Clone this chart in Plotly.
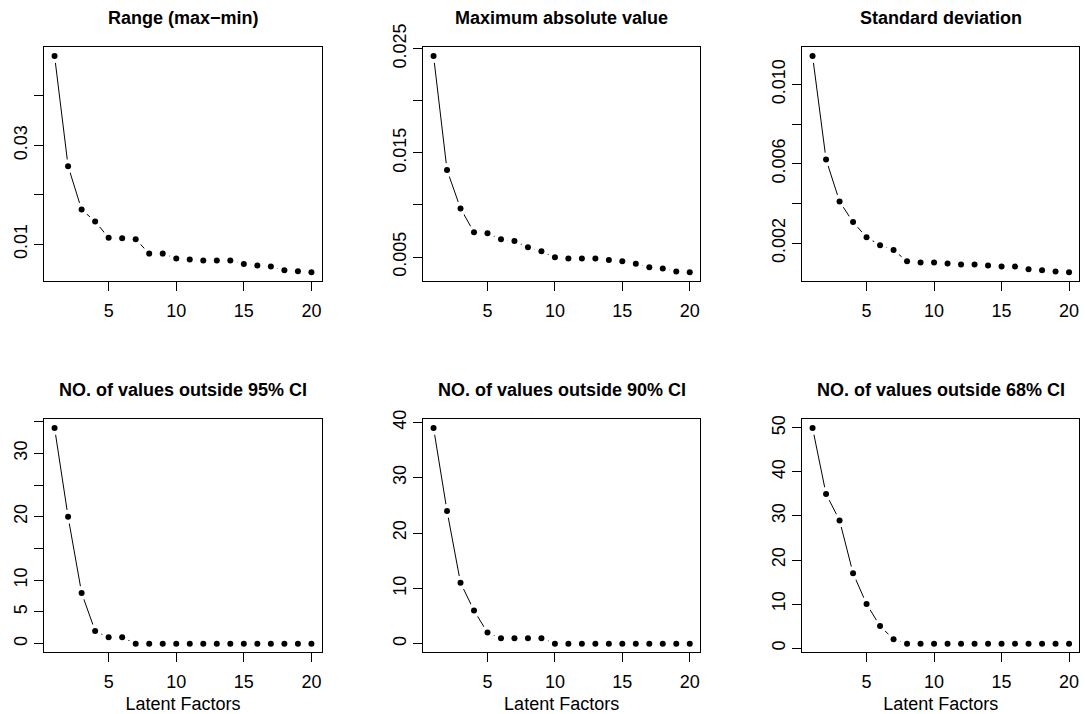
import plotly.graph_objects as go

factors = list(range(1, 21))

range_vals = [0.0481, 0.0258, 0.0170, 0.0146, 0.0113, 0.0112, 0.0110, 0.0081, 0.0081, 0.0071,
              0.0069, 0.0067, 0.0067, 0.0067, 0.0060, 0.0057, 0.0055, 0.0047, 0.0045, 0.0043]
maxabs_vals = [0.0243, 0.01335, 0.00966, 0.00738, 0.00728, 0.0067, 0.00654, 0.00593, 0.00555, 0.00497,
               0.00487, 0.00487, 0.00487, 0.00471, 0.00459, 0.00436, 0.00401, 0.00391, 0.00362, 0.00353]
sd_vals = [0.01143, 0.00622, 0.0041, 0.00306, 0.0023, 0.0019, 0.00165, 0.00109, 0.00103, 0.00103,
           0.00098, 0.00093, 0.00093, 0.00088, 0.00082, 0.00082, 0.00069, 0.00064, 0.00057, 0.00053]
ci95_vals = [34, 20, 8, 2, 1, 1, 0, 0, 0, 0, 0, 0, 0, 0, 0, 0, 0, 0, 0, 0]
ci90_vals = [39, 24, 11, 6, 2, 1, 1, 1, 1, 0, 0, 0, 0, 0, 0, 0, 0, 0, 0, 0]
ci68_vals = [50, 35, 29, 17, 10, 5, 2, 1, 1, 1, 1, 1, 1, 1, 1, 1, 1, 1, 1, 1]

titles = ["Range (max\u2212min)", "Maximum absolute value", "Standard deviation",
          "NO. of values outside 95% CI", "NO. of values outside 90% CI", "NO. of values outside 68% CI"]

ytick_vals = [
    [0.01, 0.02, 0.03, 0.04],
    [0.005, 0.010, 0.015, 0.020, 0.025],
    [0.002, 0.004, 0.006, 0.008, 0.010],
    [0, 5, 10, 15, 20, 25, 30, 35],
    [0, 10, 20, 30, 40],
    [0, 10, 20, 30, 40, 50],
]
ytick_text = [
    ["0.01", "", "0.03", ""],
    ["0.005", "", "0.015", "", "0.025"],
    ["0.002", "", "0.006", "", "0.010"],
    ["0", "5", "10", "", "20", "", "30", ""],
    ["0", "10", "20", "30", "40"],
    ["0", "10", "20", "30", "40", "50"],
]
xtick_vals = [5, 10, 15, 20]
xlabel = "Latent Factors"

series = [range_vals, maxabs_vals, sd_vals, ci95_vals, ci90_vals, ci68_vals]

W, H = 1085, 714
col_px = [(44.3, 321.7), (423.3, 700.0), (802.3, 1079.3)]
row_px = [(47.3, 281.0), (419.3, 652.3)]
title_y_px = [17.5, 389.7]

FONT = "Liberation Sans, Arial, Helvetica, sans-serif"

fig = go.Figure()
annotations = []
for i, vals in enumerate(series):
    r, c = divmod(i, 3)
    n = i + 1
    xa = "x" if n == 1 else f"x{n}"
    ya = "y" if n == 1 else f"y{n}"
    # line
    fig.add_trace(go.Scatter(x=factors, y=vals, mode="lines", xaxis=xa, yaxis=ya,
                             line=dict(color="black", width=1), showlegend=False, hoverinfo="skip"))
    # gaps around points (R type="b")
    fig.add_trace(go.Scatter(x=factors, y=vals, mode="markers", xaxis=xa, yaxis=ya,
                             marker=dict(color="white", size=14, line=dict(width=0)),
                             showlegend=False, hoverinfo="skip"))
    fig.add_trace(go.Scatter(x=factors, y=vals, mode="markers", xaxis=xa, yaxis=ya,
                             marker=dict(color="black", size=6, line=dict(width=0)),
                             showlegend=False))
    lo, hi = min(vals), max(vals)
    pad = (hi - lo) * 0.04
    x0, x1 = col_px[c]
    y0, y1 = row_px[r]
    xdom = [x0 / W, x1 / W]
    ydom = [1 - y1 / H, 1 - y0 / H]
    xkey = "xaxis" if n == 1 else f"xaxis{n}"
    ykey = "yaxis" if n == 1 else f"yaxis{n}"
    xax = dict(domain=xdom, anchor=ya, range=[1 - 0.76, 20 + 0.76], automargin=False,
               tickmode="array", tickvals=xtick_vals, ticktext=[str(v) for v in xtick_vals],
               ticks="outside", ticklen=9, tickwidth=1, tickcolor="black", ticklabelstandoff=4,
               showline=True, linecolor="black", linewidth=1, mirror=True,
               showgrid=False, zeroline=False,
               tickfont=dict(family=FONT, size=18, color="black"))
    if r == 1:
        xax["title"] = dict(text=xlabel, font=dict(family=FONT, size=18, color="black"), standoff=8)
    yax = dict(domain=ydom, anchor=xa, range=[lo - pad, hi + pad], automargin=False,
               tickmode="array", tickvals=ytick_vals[i], ticktext=ytick_text[i],
               ticks="outside", ticklen=9, tickwidth=1, tickcolor="black",
               showline=True, linecolor="black", linewidth=1, mirror=True,
               showgrid=False, zeroline=False, tickangle=-90,
               tickfont=dict(family=FONT, size=18, color="black"))
    fig.update_layout(**{xkey: xax, ykey: yax})
    annotations.append(dict(text="<b>" + titles[i] + "</b>", x=(x0 + x1) / 2 / W,
                            y=1 - title_y_px[r] / H, xref="paper", yref="paper",
                            xanchor="center", yanchor="middle", showarrow=False,
                            font=dict(family=FONT, size=18, color="black")))

fig.update_layout(width=W, height=H, margin=dict(l=0, r=0, t=0, b=0, autoexpand=False),
                  paper_bgcolor="white", plot_bgcolor="white",
                  annotations=annotations, showlegend=False)
fig.write_html("out.html")
